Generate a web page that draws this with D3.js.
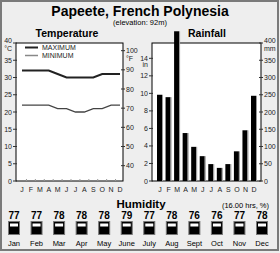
<!DOCTYPE html>
<html><head><meta charset="utf-8">
<script src="https://cdn.jsdelivr.net/npm/d3@7"></script>
<style>
html,body{margin:0;padding:0;background:#eee;}
svg{display:block;}
text{font-family:"Liberation Sans",Arial,sans-serif;}
.ax{font-family:"Liberation Sans Narrow","Arial Narrow","Liberation Sans",sans-serif;font-size:7px;fill:#222;}
</style></head>
<body>
<script>
const months = ["J","F","M","A","M","J","J","A","S","O","N","D"];
const monthNames = ["Jan","Feb","Mar","Apr","May","June","July","Aug","Sept","Oct","Nov","Dec"];
const tempMax = [32,32,32,32,31,30,30,30,30,31,31,31];
const tempMin = [22,22,22,22,21,21,20,20,21,21,22,22];
const rainMM = [250,243,434,139,99,72,49,38,49,86,147,247];
const humidity = [77,77,78,78,78,79,77,78,76,76,77,78];
const cTicks = [0,5,10,15,20,25,30,35,40];
const fTicks = [40,50,60,70,80,90,100];
const inTicks = [0,2,4,6,8,10,12,14];
const mmTicks = [0,50,100,150,200,250,300,350,400];

const W = 280, H = 253;
const svg = d3.select("body").append("svg").attr("width", W).attr("height", H);
svg.append("rect").attr("x",0).attr("y",0).attr("width",W).attr("height",H).attr("fill","#eee");
svg.append("rect").attr("x",1).attr("y",1).attr("width",277).attr("height",249)
  .attr("fill","none").attr("stroke","#7a7a7a").attr("stroke-width",2);

svg.append("text").attr("x",140).attr("y",16).attr("text-anchor","middle")
  .attr("font-weight","bold").attr("font-size",14).text("Papeete, French Polynesia");
svg.append("text").attr("x",140).attr("y",25).attr("text-anchor","middle")
  .attr("font-size",7.5).text("(elevation: 92m)");

// ---------- Temperature ----------
const tL = 16, tR = 123, pTop = 43, pBot = 181;
svg.append("text").attr("x",67).attr("y",37).attr("text-anchor","middle")
  .attr("font-weight","bold").attr("font-size",10.5).text("Temperature");
const yC = d3.scaleLinear().domain([0,40]).range([pBot, pTop]);
const xT = d3.scalePoint().domain(d3.range(12)).range([tL+6, tR-3]);
svg.append("rect").attr("x",tL).attr("y",pTop).attr("width",tR-tL).attr("height",pBot-pTop)
  .attr("fill","#fff").attr("stroke","#000").attr("stroke-width",1);

cTicks.forEach(v=>{
  const y = yC(v);
  svg.append("line").attr("x1",tL-3).attr("x2",tL+1).attr("y1",y).attr("y2",y).attr("stroke","#333");
  if (v<40) svg.append("text").attr("class","ax").attr("x",tL-4).attr("y",y+2.5).attr("text-anchor","end").text(v);
});
svg.append("text").attr("class","ax").attr("x",tL-4).attr("y",yC(40)).attr("text-anchor","end").text("40");
svg.append("text").attr("class","ax").attr("x",tL-4).attr("y",yC(40)+8).attr("text-anchor","end").text("°C");

const yF = f => yC((f-32)*5/9);
fTicks.forEach(f=>{
  const y = yF(f);
  svg.append("line").attr("x1",tR-2).attr("x2",tR+2).attr("y1",y).attr("y2",y).attr("stroke","#333");
  svg.append("text").attr("class","ax").attr("x",tR+3).attr("y",y+2.5).text(f);
});
svg.append("text").attr("class","ax").attr("x",tR+3).attr("y",yF(100)+10.5).text("°F");

for (let i=0;i<11;i++){
  const x = (xT(i)+xT(i+1))/2;
  svg.append("line").attr("x1",x).attr("x2",x).attr("y1",pBot).attr("y2",pBot-2).attr("stroke","#999");
}
months.forEach((m,i)=>{
  svg.append("text").attr("class","ax").attr("x",xT(i)).attr("y",192).attr("text-anchor","middle").text(m);
});

const line = arr => d3.line().x((d,i)=>xT(i)).y(d=>yC(d))(arr);
svg.append("path").attr("d",line(tempMin)).attr("fill","none").attr("stroke","#444").attr("stroke-width",1.3);
svg.append("path").attr("d",line(tempMax)).attr("fill","none").attr("stroke","#222").attr("stroke-width",2);

svg.append("line").attr("x1",25).attr("x2",38).attr("y1",47.5).attr("y2",47.5).attr("stroke","#222").attr("stroke-width",2);
svg.append("text").attr("class","ax").attr("x",42).attr("y",50).text("MAXIMUM");
svg.append("line").attr("x1",25).attr("x2",38).attr("y1",55.5).attr("y2",55.5).attr("stroke","#888").attr("stroke-width",1.5);
svg.append("text").attr("class","ax").attr("x",42).attr("y",58).text("MINIMUM");

// ---------- Rainfall ----------
const rL = 152, rR = 261;
svg.append("text").attr("x",207).attr("y",37).attr("text-anchor","middle")
  .attr("font-weight","bold").attr("font-size",10.5).text("Rainfall");
const yMM = d3.scaleLinear().domain([0,400]).range([pBot, pTop]);
const xR = d3.scalePoint().domain(d3.range(12)).range([rL+8, rR-7]);
svg.append("rect").attr("x",rL).attr("y",pTop).attr("width",rR-rL).attr("height",pBot-pTop)
  .attr("fill","#fff").attr("stroke","#000").attr("stroke-width",1);

inTicks.forEach(v=>{
  const y = yMM(v*25.4);
  svg.append("line").attr("x1",rL-3).attr("x2",rL+1).attr("y1",y).attr("y2",y).attr("stroke","#333");
  svg.append("text").attr("class","ax").attr("x",rL-4).attr("y",y+2.5).attr("text-anchor","end").text(v);
});
svg.append("text").attr("class","ax").attr("x",rL-4).attr("y",yMM(14*25.4)+9).attr("text-anchor","end").text("in");

mmTicks.forEach(v=>{
  const y = yMM(v);
  svg.append("line").attr("x1",rR-2).attr("x2",rR+2).attr("y1",y).attr("y2",y).attr("stroke","#333");
  if (v<400) svg.append("text").attr("class","ax").attr("x",rR+3).attr("y",y+2.5).text(v);
});
svg.append("text").attr("class","ax").attr("x",rR+3).attr("y",yMM(400)).text("400");
svg.append("text").attr("class","ax").attr("x",rR+3).attr("y",yMM(400)+8).text("mm");

months.forEach((m,i)=>{
  svg.append("text").attr("class","ax").attr("x",xR(i)).attr("y",192).attr("text-anchor","middle").text(m);
});
const bw = 5;
rainMM.forEach((v,i)=>{
  const x = xR(i)-bw/2-0.5;
  svg.append("rect").attr("x",x).attr("y",yMM(v)).attr("width",bw).attr("height",pBot-yMM(v)).attr("fill","#000");
  svg.append("rect").attr("x",x+bw).attr("y",yMM(v)).attr("width",1).attr("height",pBot-yMM(v)).attr("fill","#999");
});

// ---------- Humidity ----------
svg.append("text").attr("x",141).attr("y",208).attr("text-anchor","middle")
  .attr("font-weight","bold").attr("font-size",11.5).text("Humidity");
svg.append("text").attr("x",269).attr("y",208).attr("text-anchor","end")
  .attr("font-size",7.5).text("(16.00 hrs, %)");
const xH = d3.scalePoint().domain(d3.range(12)).range([14, 262]);
humidity.forEach((h,i)=>{
  const cx = xH(i);
  svg.append("text").attr("x",cx).attr("y",219).attr("text-anchor","middle")
    .attr("font-weight","bold").attr("font-size",10).text(h);
  svg.append("rect").attr("x",cx-5.5).attr("y",221.5).attr("width",11).attr("height",13)
    .attr("fill","#000").attr("stroke","#777").attr("stroke-width",1);
  svg.append("rect").attr("x",cx-4).attr("y",223.5).attr("width",8).attr("height",3).attr("fill","#fff");
  svg.append("text").attr("x",cx).attr("y",246).attr("text-anchor","middle")
    .attr("font-size",7.5).text(monthNames[i]);
});
</script>
</body></html>
